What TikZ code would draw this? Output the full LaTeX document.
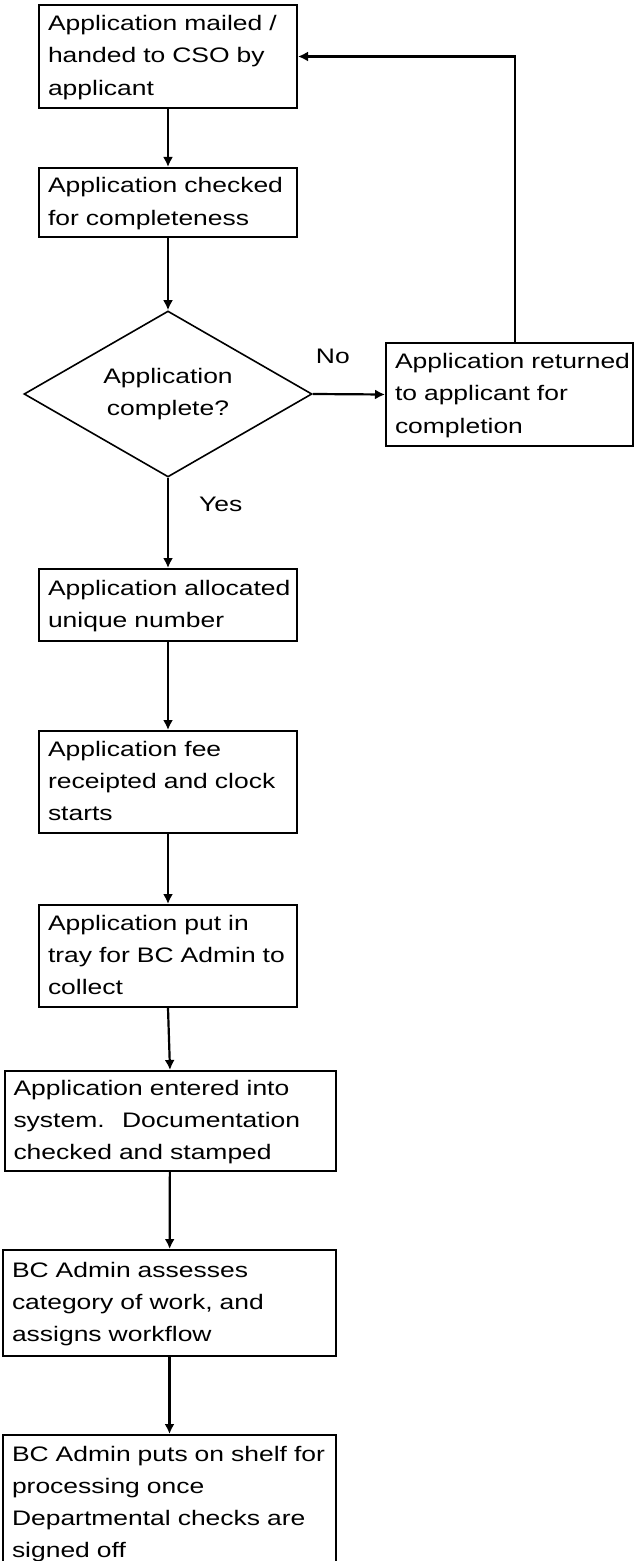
\documentclass[tikz,border=0pt]{standalone}
\usepackage{fontspec}
\setmainfont{Liberation Sans}[FakeStretch=1.26]
\usetikzlibrary{shapes.geometric,arrows.meta}
% 框内多行文字
\newcommand{\flowfont}{\fontsize{10.5}{16.15}\selectfont}
\newcommand{\flowlines}[1]{\begin{tabular}{@{}l@{}}#1\end{tabular}}
\begin{document}
\begin{tikzpicture}[x=0.5pt,y=-0.5pt,
    stepbox/.style={draw, rectangle, line width=1pt, inner xsep=4.5pt, inner ysep=0pt,
        align=left, text width=#1, font=\flowfont},
    decision/.style={draw, diamond, line width=0.8pt, aspect=1.73, minimum width=144pt,
        minimum height=83pt, inner sep=0pt, align=center, font=\flowfont},
    flow/.style={-{Latex[length=5pt,width=5pt]}, line width=1.1pt},
    lbl/.style={inner sep=0pt, font=\flowfont}]
    \useasboundingbox (0,0) rectangle (635,1561);

    % 流程中的各个框
    \node[stepbox=120pt, minimum height=51.5pt] (mail) at (168,56.5)
        {\flowlines{Application mailed /\\handed to CSO by\\applicant}};
    \node[stepbox=120pt, minimum height=34.5pt] (check) at (168,202.5)
        {\flowlines{Application checked\\for completeness}};
    \node[decision] (complete) at (168,394) {Application\\complete?};
    \node[stepbox=114.5pt, minimum height=51.5pt] (return) at (509.5,394.5)
        {\flowlines{Application returned\\to applicant for\\completion}};
    \node[stepbox=120pt, minimum height=36pt] (number) at (168,605)
        {\flowlines{Application allocated\\unique number}};
    \node[stepbox=120pt, minimum height=51pt] (fee) at (168,782)
        {\flowlines{Application fee\\receipted and clock\\starts}};
    \node[stepbox=120pt, minimum height=51pt] (tray) at (168,956)
        {\flowlines{Application put in\\tray for BC Admin to\\collect}};
    \node[stepbox=156.5pt, minimum height=50pt] (entry) at (170,1121)
        {\flowlines{Application entered into\\system.~ Documentation\\checked and stamped}};
    \node[stepbox=157.5pt, minimum height=53pt] (assess) at (169.5,1303)
        {\flowlines{BC Admin assesses\\category of work, and\\assigns workflow}};
    \node[stepbox=157.5pt, minimum height=68pt] (shelf) at (169.5,1503)
        {\flowlines{BC Admin puts on shelf for\\processing once\\Departmental checks are\\signed off}};

    % 连线
    \draw[flow] (mail) -- (check);
    \draw[flow] (check) -- (complete);
    \draw[flow] (complete) -- node[lbl, pos=0.3, anchor=west, xshift=15pt] {Yes} (number);
    \draw[flow] (complete.east) -- node[lbl, pos=0, anchor=south west, xshift=1pt, yshift=14.5pt] {No} (return.west);
    \draw[flow] ([xshift=2.75pt]return.north) |- (mail.east); % 返回申请人
    \draw[flow] (number) -- (fee);
    \draw[flow] (fee) -- (tray);
    \draw[flow] (tray.south) -- (entry.north);
    \draw[flow] (entry) -- (assess);
    \draw[flow] (assess) -- (shelf);
\end{tikzpicture}
\end{document}
